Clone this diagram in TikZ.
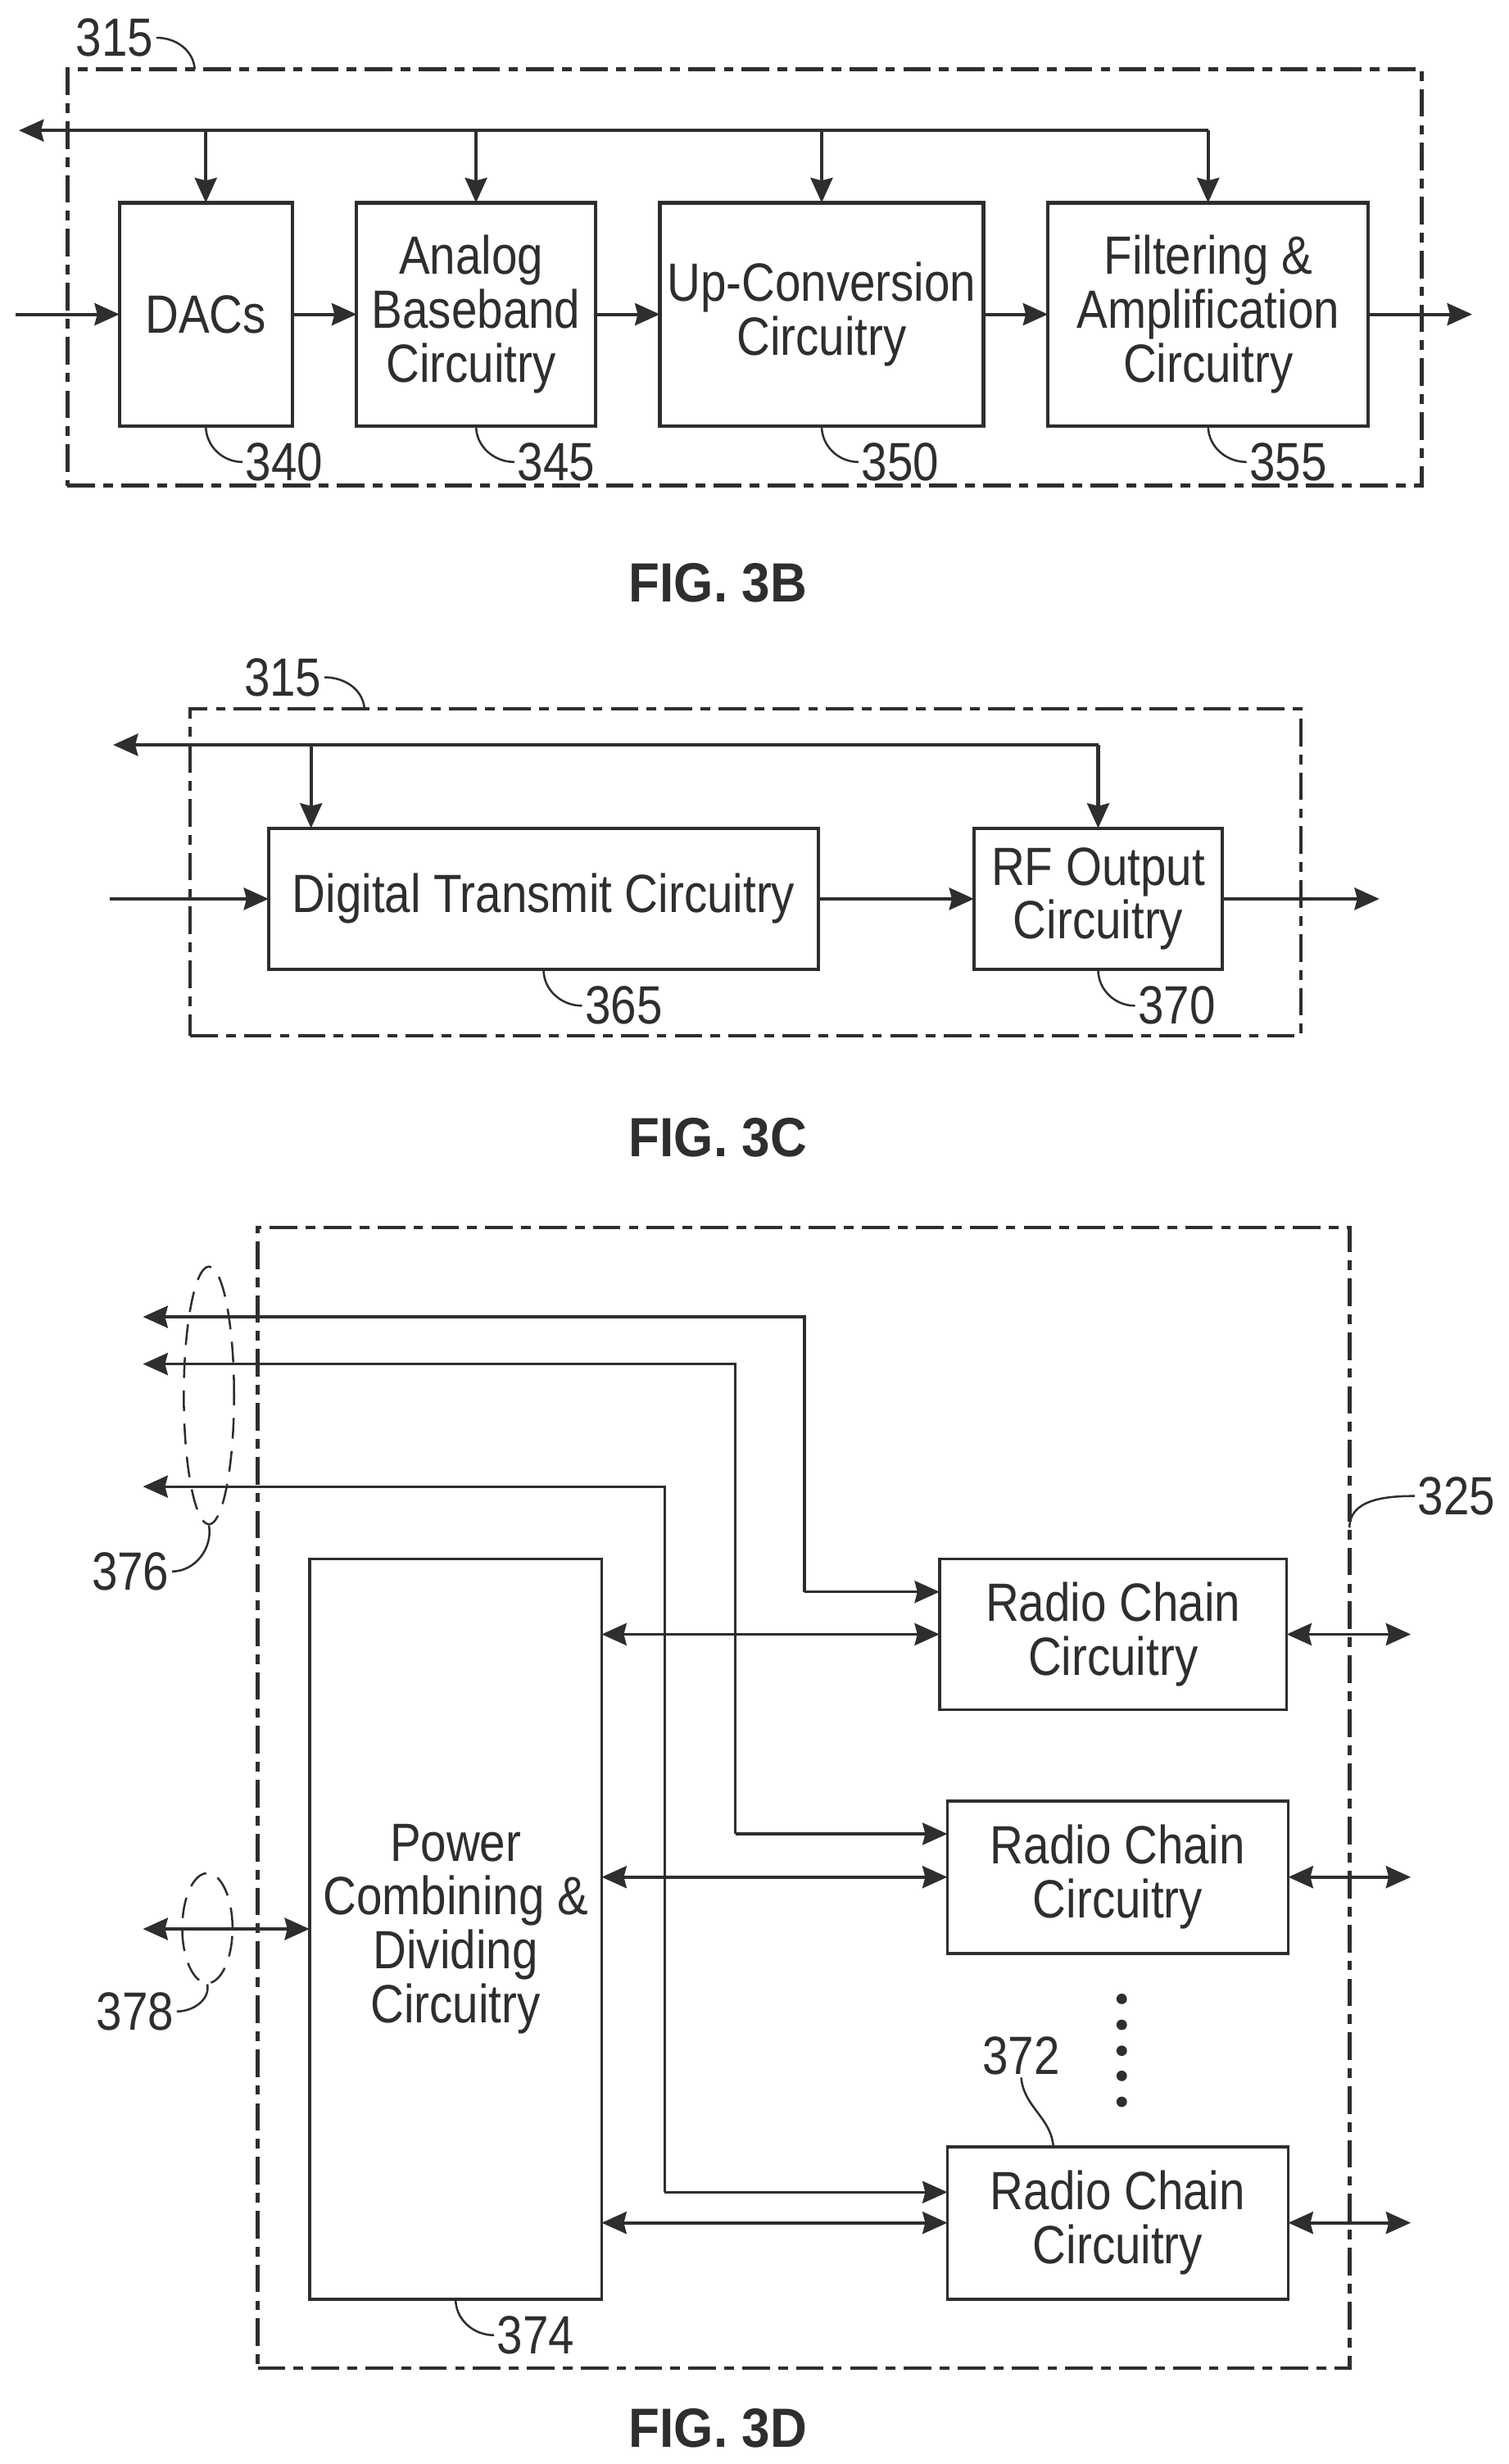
\documentclass[tikz,border=0pt]{standalone}
\usepackage{fontspec}
\setmainfont[FakeStretch=0.86]{Liberation Sans}
\newfontfamily\figfont[FakeStretch=0.92]{Liberation Sans}
\usetikzlibrary{arrows.meta,shapes.geometric}

\colorlet{ink}{black!82}
\tikzset{
  txt/.style={font=\fontsize{39}{39}\selectfont, text=ink, inner sep=2pt, align=center},
  figlabel/.style={font=\fontsize{40}{40}\figfont\bfseries, text=ink, inner sep=0pt},
  blockbox/.style={draw=ink, line width=2.5pt, outer sep=0pt, txt},
  thinbox/.style={draw=ink, line width=2.2pt, outer sep=0pt, txt},
  dashbox/.style={draw=ink, line width=2.6pt, outer sep=0pt, dash pattern=on 20pt off 6pt on 7pt off 6pt},
  sig/.style={draw=ink, line width=2.4pt, -{Stealth[length=18pt,width=16pt,inset=2pt]}},
  bisig/.style={draw=ink, line width=2.2pt, {Stealth[length=18pt,width=16pt,inset=2pt]}-{Stealth[length=18pt,width=16pt,inset=2pt]}},
  leader/.style={draw=ink, line width=1.5pt},
  loopmark/.style={draw=ink, ellipse, line width=1.5pt, inner sep=0pt, dash pattern=on 15pt off 9pt}
}

\begin{document}
\begin{tikzpicture}[x=0.04cm, y=-0.04cm]
            \useasboundingbox (0,0) rectangle (960,1568);

            % Fig 3B
            \node (outerB) at (474,176.5) [dashbox, minimum width=862*0.04cm, minimum height=265*0.04cm] {};
            \node (dacs) at (131,200) [blockbox, minimum width=110*0.04cm, minimum height=142*0.04cm] {DACs};
            \node (analog) at (303,200) [blockbox, minimum width=152*0.04cm, minimum height=142*0.04cm] {Analog\hspace*{7pt}\\Baseband\hspace*{7pt}\\Circuitry\hspace*{7pt}};
            \node (upconv) at (523,200) [blockbox, minimum width=206*0.04cm, minimum height=142*0.04cm] {Up-Conversion\\Circuitry};
            \node (filter) at (769,200) [blockbox, minimum width=204*0.04cm, minimum height=142*0.04cm] {Filtering \&\\Amplification\\Circuitry};

            \coordinate (busB) at (12,83);
            \coordinate (inB) at (10,200);
            \coordinate (outB) at (937,200);

            \draw[sig] (filter.north |- busB) -- (busB);
            \draw[sig] (dacs.north |- busB) -- (dacs.north);
            \draw[sig] (analog.north |- busB) -- (analog.north);
            \draw[sig] (upconv.north |- busB) -- (upconv.north);
            \draw[sig] (filter.north |- busB) -- (filter.north);

            \draw[sig] (inB) -- (dacs.west);
            \draw[sig] (dacs.east) -- (analog.west);
            \draw[sig] (analog.east) -- (upconv.west);
            \draw[sig] (upconv.east) -- (filter.west);
            \draw[sig] (filter.east) -- (outB);

            \node (L315b) at (73,24) [txt] {315};
            \node (L340) at (181,294) [txt] {340};
            \node (L345) at (354,294) [txt] {345};
            \node (L350) at (573,294) [txt] {350};
            \node (L355) at (820,294) [txt] {355};
            \coordinate (hook315b) at (124,44);

            \draw[leader] (L315b.east) to[out=0, in=95] (hook315b);
            \draw[leader] (dacs.south) to[out=-90, in=180] (L340.west);
            \draw[leader] (analog.south) to[out=-90, in=180] (L345.west);
            \draw[leader] (upconv.south) to[out=-90, in=180] (L350.west);
            \draw[leader] (filter.south) to[out=-90, in=180] (L355.west);

            \node (figB) at (457,371) [figlabel] {FIG. 3B};

            % Fig 3C
            \node (outerC) at (474.5,555) [dashbox, minimum width=707*0.04cm, minimum height=208*0.04cm] {};
            \node (digital) at (346,572) [blockbox, minimum width=350*0.04cm, minimum height=90*0.04cm] {Digital Transmit Circuitry};
            \node (rfout) at (699,572) [blockbox, minimum width=158*0.04cm, minimum height=90*0.04cm] {RF Output\\Circuitry};

            \coordinate (busC) at (72,474);
            \coordinate (inC) at (70,572);
            \coordinate (outC) at (878,572);
            \coordinate (tapC) at (198,474);

            \draw[sig] (rfout.north |- busC) -- (busC);
            \draw[sig] (tapC) -- (tapC |- digital.north);
            \draw[sig] (rfout.north |- busC) -- (rfout.north);
            \draw[sig] (inC) -- (digital.west);
            \draw[sig] (digital.east) -- (rfout.west);
            \draw[sig] (rfout.east) -- (outC);

            \node (L315c) at (180,431) [txt] {315};
            \node (L365) at (397,640) [txt] {365};
            \node (L370) at (749,640) [txt] {370};
            \coordinate (hook315c) at (232,451);

            \draw[leader] (L315c.east) to[out=0, in=95] (hook315c);
            \draw[leader] (digital.south) to[out=-90, in=180] (L365.west);
            \draw[leader] (rfout.south) to[out=-90, in=180] (L370.west);

            \node (figC) at (457,724) [figlabel] {FIG. 3C};

            % Fig 3D
            \node (outerD) at (511.5,1144) [dashbox, minimum width=695*0.04cm, minimum height=726*0.04cm] {};
            \node (power) at (290,1227.5) [thinbox, minimum width=186*0.04cm, minimum height=471*0.04cm] {Power\\Combining \&\\Dividing\\Circuitry};
            \node (radioA) at (708.5,1040) [thinbox, minimum width=221*0.04cm, minimum height=96*0.04cm] {Radio Chain\\Circuitry};
            \node (radioB) at (711.5,1194.5) [thinbox, minimum width=217*0.04cm, minimum height=97*0.04cm] {Radio Chain\\Circuitry};
            \node (radioC) at (711.5,1414.5) [thinbox, minimum width=217*0.04cm, minimum height=97*0.04cm] {Radio Chain\\Circuitry};

            \coordinate (endA) at (91,838);
            \coordinate (endB) at (91,868);
            \coordinate (endC) at (91,946);
            \coordinate (endP) at (91,1227.5);
            \coordinate (inA) at (598,1013);
            \coordinate (inB) at (603,1167);
            \coordinate (inC) at (603,1395);
            \coordinate (outA) at (898,1040);
            \coordinate (outBb) at (898,1194.5);
            \coordinate (outCc) at (898,1414.5);

            % Bent control lines
            \draw[sig, line width=2pt] (inA) ++(-86,0) |- (endA);
            \draw[sig, line width=2pt] (inB) ++(-135,0) |- (endB);
            \draw[sig, line width=2pt] (inC) ++(-180,0) |- (endC);
            \draw[sig, line width=2pt] (inA) ++(-86,0) -- (inA);
            \draw[sig, line width=2pt] (inB) ++(-135,0) -- (inB);
            \draw[sig, line width=2pt] (inC) ++(-180,0) -- (inC);

            \draw[bisig] (power.east |- radioA.west) -- (radioA.west);
            \draw[bisig] (power.east |- radioB.west) -- (radioB.west);
            \draw[bisig] (power.east |- radioC.west) -- (radioC.west);
            \draw[bisig] (radioA.east) -- (outA);
            \draw[bisig] (radioB.east) -- (outBb);
            \draw[bisig] (radioC.east) -- (outCc);
            \draw[bisig] (power.west) -- (endP);

            \node (loopA) at (133,888) [loopmark, minimum width=32*0.04cm, minimum height=164*0.04cm] {};
            \node (loopB) at (132,1227) [loopmark, minimum width=32*0.04cm, minimum height=70*0.04cm] {};

            \foreach \i/\y in {1/1272,2/1288.5,3/1305,4/1321,5/1337.5}
                \node (dot\i) at (714,\y) [circle, fill=ink, inner sep=0pt, minimum size=7.6pt] {};

            \node (L325) at (927,952) [txt] {325};
            \node (L372) at (650,1308) [txt] {372};
            \node (L374) at (341,1486) [txt] {374};
            \node (L376) at (83,1000) [txt] {376};
            \node (L378) at (86,1280) [txt] {378};
            \coordinate (hook325) at (859,972);
            \coordinate (hook372) at (670.5,1366);

            \draw[leader] (L325.west) to[out=180, in=90] (hook325);
            \draw[leader] (L372.south) to[out=-85, in=95] (hook372);
            \draw[leader] (power.south) to[out=-90, in=180] (L374.west);
            \draw[leader] (L376.east) to[out=0, in=-80] (loopA.south);
            \draw[leader] (L378.east) to[out=0, in=-80] (loopB.south);

            \node (figD) at (457,1545) [figlabel] {FIG. 3D};
\end{tikzpicture}
\end{document}
